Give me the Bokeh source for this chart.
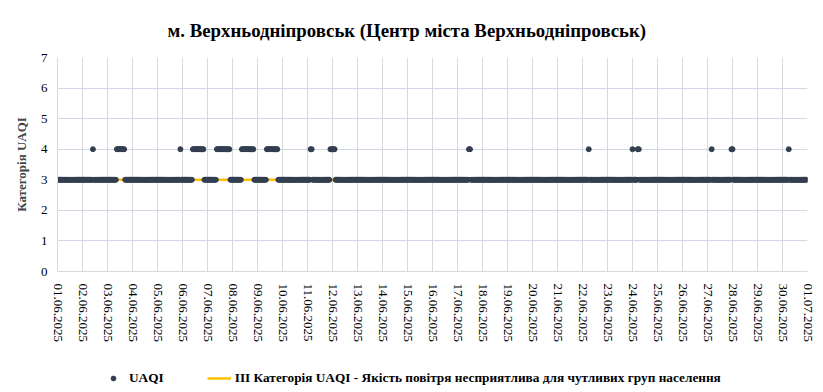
import numpy as np
from bokeh.plotting import figure
from bokeh.layouts import column
from bokeh.models import Range1d, FixedTicker, Legend, LegendItem, ColumnDataSource
from bokeh.embed import file_html
from bokeh.resources import INLINE

# ---------------- data ----------------
title_text = "м. Верхньодніпровськ (Центр міста Верхньодніпровськ)"
y_label = "Категорія UAQI"
series_label = "UAQI"
line_label = "III Категорія UAQI - Якість повітря несприятлива для чутливих груп населення"

tick_labels = [
    "01.06.2025", "02.06.2025", "03.06.2025", "04.06.2025", "05.06.2025",
    "06.06.2025", "07.06.2025", "08.06.2025", "09.06.2025", "10.06.2025",
    "11.06.2025", "12.06.2025", "13.06.2025", "14.06.2025", "15.06.2025",
    "16.06.2025", "17.06.2025", "18.06.2025", "19.06.2025", "20.06.2025",
    "21.06.2025", "22.06.2025", "23.06.2025", "24.06.2025", "25.06.2025",
    "26.06.2025", "27.06.2025", "28.06.2025", "29.06.2025", "30.06.2025",
    "01.07.2025",
]

# hourly readings, hour index counted from 01.06.2025 00:00 (720 hours)
n_hours = 720
base_category = 3
# hours (index) at which UAQI category was 4
category4_hours = [
    34,
    57, 58, 59, 60, 61, 62, 63, 64,
    118,
    130, 131, 132, 133, 134, 135, 136, 137, 138, 139, 140,
    153, 154, 155, 156, 157, 158, 159, 160, 161, 162, 163, 164, 165,
    177, 178, 179, 180, 181, 182, 183, 184, 185, 186, 187, 188,
    201, 202, 203, 204, 205, 206, 207, 208, 209, 210, 211,
    243, 244,
    262, 263, 264, 265, 266,
    395, 396,
    510,
    552,
    557, 558,
    628,
    647, 648,
    702,
]
threshold_value = 3

hours = list(range(n_hours))
cat4 = set(category4_hours)
uaqi = [4 if h in cat4 else base_category for h in hours]
day_ticks = [24 * i for i in range(len(tick_labels))]

DOT = "#333f50"
GOLD = "#ffc000"
serif = "Liberation Serif"

# ---------------- main figure ----------------
p = figure(
    width=823, height=352,
    output_backend="svg", toolbar_location=None,
    x_range=Range1d(0, n_hours), y_range=Range1d(0, 7),
    min_border_left=57, min_border_right=16,
    min_border_top=57, min_border_bottom=81,
    background_fill_color="white", border_fill_color="white",
)
p.outline_line_color = None

p.title.text = title_text
p.title.align = "left"
p.title.offset = 110
p.title.text_font = serif
p.title.text_font_style = "bold"
p.title.text_font_size = "18.8px"
p.title.text_color = "#000000"
p.title.standoff = 34

p.xaxis.ticker = FixedTicker(ticks=day_ticks)
p.xaxis.major_label_overrides = {t: l for t, l in zip(day_ticks, tick_labels)}
p.xaxis.major_label_orientation = "vertical"
p.yaxis.ticker = FixedTicker(ticks=list(range(8)))
for ax in (p.xaxis[0], p.yaxis[0]):
    ax.axis_line_color = "#d9d9d9"
    ax.major_tick_line_color = None
    ax.minor_tick_line_color = None
    ax.major_tick_out = 0
    ax.major_tick_in = 0
    ax.major_label_text_font = serif
    ax.major_label_text_font_size = "13px"
    ax.major_label_text_color = "#000000"
p.xaxis.major_label_standoff = 12
p.yaxis.major_label_standoff = 10
p.yaxis.axis_label = y_label
p.yaxis.axis_label_text_font = serif
p.yaxis.axis_label_text_font_style = "bold"
p.yaxis.axis_label_text_font_size = "13px"
p.yaxis.axis_label_standoff = 9

p.xgrid.ticker = FixedTicker(ticks=day_ticks)
p.xgrid.grid_line_color = "#d9d9d9"
p.ygrid.ticker = FixedTicker(ticks=list(range(8)))
p.ygrid.grid_line_color = "#d0d7e5"

line_src = ColumnDataSource(dict(x=[hours[0], hours[-1]], y=[threshold_value, threshold_value]))
p.line("x", "y", source=line_src, line_color=GOLD, line_width=2.5)
src = ColumnDataSource(dict(x=hours, y=uaqi))
p.scatter("x", "y", source=src, size=5, fill_color=DOT, line_color=DOT)

# ---------------- legend strip ----------------
# same sources, but the strip's ranges keep the data out of view; only the legend shows
p2 = figure(
    width=823, height=40, output_backend="svg", toolbar_location=None,
    x_axis_type=None, y_axis_type=None,
    x_range=Range1d(-10, -5), y_range=Range1d(-10, -5),
    min_border=0, background_fill_color="white", border_fill_color="white",
)
p2.outline_line_color = None
p2.xgrid.visible = False
p2.ygrid.visible = False
lg_line = p2.line("x", "y", source=line_src, line_color=GOLD, line_width=2.5)
lg_pts = p2.scatter("x", "y", source=src, size=5, fill_color=DOT, line_color=DOT)

legend = Legend(
    items=[LegendItem(label=series_label, renderers=[lg_pts]),
           LegendItem(label=line_label, renderers=[lg_line])],
    orientation="horizontal", location=(44, 6),
    glyph_width=24, glyph_height=12, label_height=16, label_standoff=4,
    spacing=43, padding=0, margin=0,
    border_line_color=None, background_fill_alpha=0,
    label_text_font=serif, label_text_font_style="bold",
    label_text_font_size="13.3px", label_text_color="#000000",
)
p2.add_layout(legend)

layout = column(p, p2, spacing=0)
open("out.html", "w").write(file_html(layout, INLINE))
